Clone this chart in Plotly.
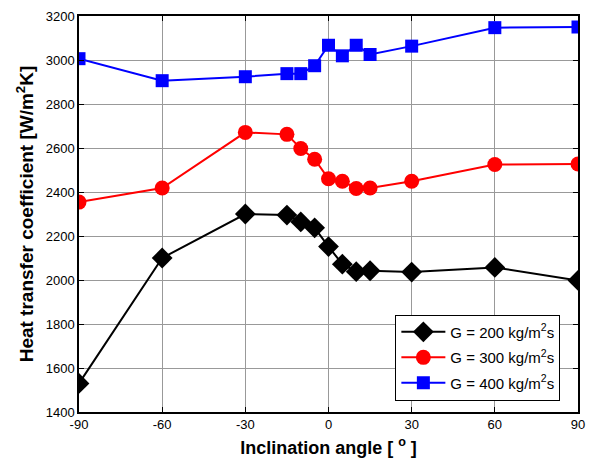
import plotly.graph_objects as go

# Inclination angles (degrees)
angle = [-90, -60, -30, -15, -10, -5, 0, 5, 10, 15, 30, 60, 90]

# Heat transfer coefficient [W/m2K] per mass flux
htc_200 = [1530, 2100, 2300, 2295, 2264, 2237, 2152, 2072, 2038, 2042, 2036, 2057, 1998]
htc_300 = [2354, 2418, 2671, 2662, 2598, 2549, 2460, 2449, 2416, 2418, 2449, 2525, 2527]
htc_400 = [3006, 2906, 2924, 2938, 2938, 2974, 3067, 3019, 3067, 3025, 3063, 3147, 3150]

series = [
    ("G = 200 kg/m<sup>2</sup>s", htc_200, "black", "diamond", 16),
    ("G = 300 kg/m<sup>2</sup>s", htc_300, "#ff0000", "circle", 15),
    ("G = 400 kg/m<sup>2</sup>s", htc_400, "#0000ff", "square", 13),
]

x_ticks = [-90, -60, -30, 0, 30, 60, 90]
x_labels = ["-90", "-60", "-30", "0", "30", "60", "90"]
y_ticks = [1400, 1600, 1800, 2000, 2200, 2400, 2600, 2800, 3000, 3200]

FONT = "Liberation Sans, Arial"

fig = go.Figure()
for i, (name, vals, color, sym, size) in enumerate(series):
    fig.add_trace(go.Scatter(
        x=angle, y=vals, name=name, mode="lines+markers",
        legendgroup=f"g{i}",
        line=dict(color=color, width=2),
        marker=dict(symbol=sym, size=size, color=color, line=dict(width=0)),
    ))

axis_common = dict(
    showline=True, linecolor="black", linewidth=1.5, mirror="ticks",
    ticks="inside", ticklen=5, tickcolor="black",
    showgrid=True, gridcolor="#999999", gridwidth=1,
    zeroline=False,
    tickfont=dict(family=FONT, size=13, color="black"),
)

fig.update_xaxes(
    range=[-90, 90], tickvals=x_ticks, ticktext=x_labels,
    title=dict(text="<b>Inclination angle [ <sup>o</sup> ]</b>",
               font=dict(family=FONT, size=18, color="black"),
               standoff=10),
    **axis_common,
)
fig.update_yaxes(
    range=[1400, 3200], tickvals=y_ticks,
    title=dict(text="<b>Heat transfer coefficient [W/m<sup>2</sup>K]</b>",
               font=dict(family=FONT, size=19, color="black"),
               standoff=7),
    **axis_common,
)

fig.update_layout(
    width=594, height=469,
    margin=dict(l=79, r=9, t=14, b=57),
    paper_bgcolor="white", plot_bgcolor="white",
    showlegend=True,
    legend=dict(
        x=0.634, y=0.246, xanchor="left", yanchor="top",
        bgcolor="white", bordercolor="black", borderwidth=1,
        font=dict(family=FONT, size=15, color="black"),
        tracegroupgap=3, itemwidth=44,
    ),
)

fig.write_html("out.html")
